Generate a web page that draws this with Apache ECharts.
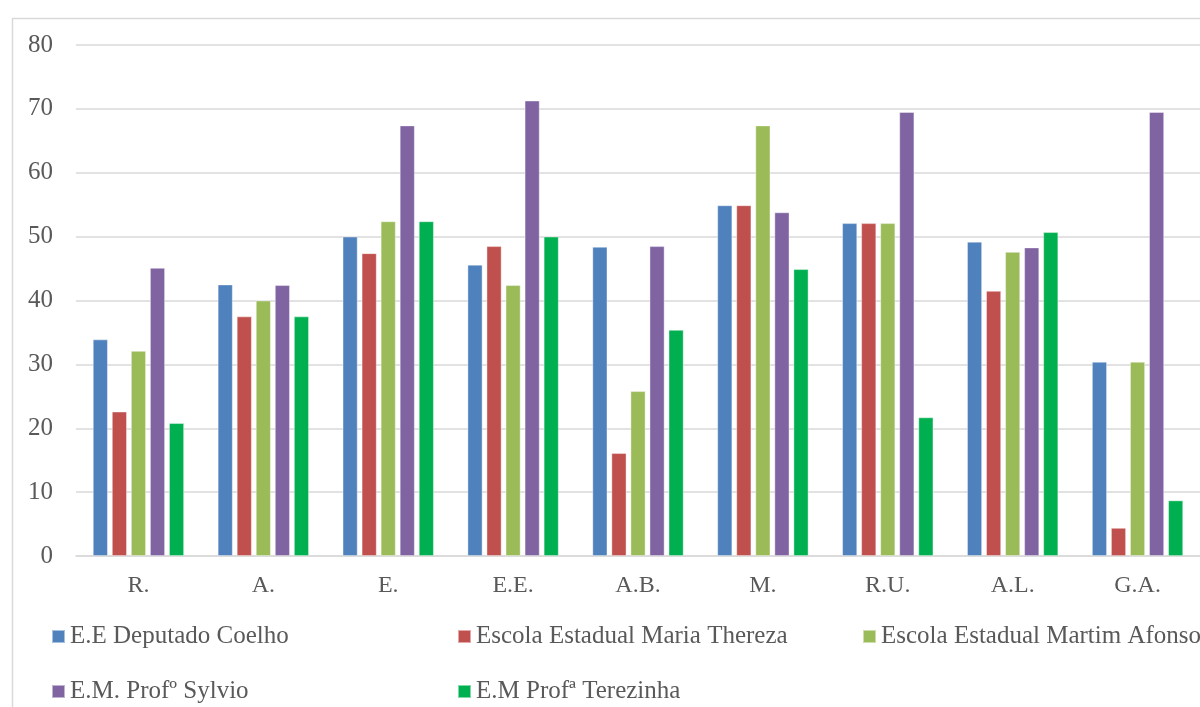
<!DOCTYPE html>
<html>
<head>
<meta charset="utf-8">
<script src="https://cdn.jsdelivr.net/npm/echarts@6/dist/echarts.min.js"></script>
<style>
  html, body { margin: 0; padding: 0; background: #fff; }
  #chart { width: 1200px; height: 707px; }
</style>
</head>
<body>
<div id="chart"></div>
<script>
// Categories along the x axis
const categories = ['R.', 'A.', 'E.', 'E.E.', 'A.B.', 'M.', 'R.U.', 'A.L.', 'G.A.'];

// One series per school
const seriesNames = [
  'E.E Deputado Coelho',
  'Escola Estadual Maria Thereza',
  'Escola Estadual Martim Afonso',
  'E.M. Profº Sylvio',
  'E.M Profª Terezinha'
];
const deputadoCoelho = [33.9, 42.5, 50.0, 45.6, 48.4, 54.9, 52.1, 49.2, 30.4];
const mariaThereza   = [22.6, 37.5, 47.4, 48.5, 16.1, 54.9, 52.1, 41.5, 4.4];
const martimAfonso   = [32.1, 40.0, 52.4, 42.4, 25.8, 67.4, 52.1, 47.6, 30.4];
const profSylvio     = [45.1, 42.4, 67.4, 71.3, 48.5, 53.8, 69.5, 48.3, 69.5];
const profTerezinha  = [20.8, 37.5, 52.4, 50.0, 35.4, 44.9, 21.7, 50.7, 8.7];

const yTicks = [0, 10, 20, 30, 40, 50, 60, 70, 80];

const values = [deputadoCoelho, mariaThereza, martimAfonso, profSylvio, profTerezinha];
const colors = ['#4F81BD', '#C0504D', '#9BBB59', '#8064A2', '#00B050'];

const FONT = 'Liberation Serif';
const TEXT = '#595959';
const GRID = '#D9D9D9';

// Legend entries laid out in fixed columns, two rows
const legendPos = [
  { left: 51, top: 624 },
  { left: 457, top: 624 },
  { left: 862, top: 624 },
  { left: 51, top: 679 },
  { left: 457, top: 679 }
];

const chart = echarts.init(document.getElementById('chart'), null, { renderer: 'canvas' });

chart.setOption({
  backgroundColor: '#fff',
  animation: false,
  graphic: [{
    type: 'rect',
    left: 10, top: 16,
    shape: { width: 1250, height: 760 },
    style: { fill: 'none', stroke: GRID, lineWidth: 1.5 },
    silent: true
  }],
  legend: seriesNames.map((name, i) => ({
    data: [name],
    left: legendPos[i].left,
    top: legendPos[i].top,
    itemWidth: 13,
    itemHeight: 13,
    icon: 'rect',
    itemGap: 0,
    padding: 0,
    textStyle: { fontFamily: FONT, fontSize: 25, color: TEXT }
  })),
  grid: { left: 76, right: -2, top: 45, bottom: 151, containLabel: false },
  xAxis: {
    type: 'category',
    data: categories,
    axisLine: { lineStyle: { color: GRID, width: 1.5 } },
    axisTick: { show: false },
    axisLabel: { fontFamily: FONT, fontSize: 24, color: TEXT, margin: 18 }
  },
  yAxis: {
    type: 'value',
    min: yTicks[0],
    max: yTicks[yTicks.length - 1],
    interval: 10,
    axisLine: { show: false },
    axisTick: { show: false },
    splitLine: { lineStyle: { color: GRID, width: 1.5 } },
    axisLabel: { fontFamily: FONT, fontSize: 25, color: TEXT, margin: 23 }
  },
  series: seriesNames.map((name, i) => ({
    name: name,
    type: 'bar',
    data: values[i],
    barWidth: 15,
    barGap: '27%',
    itemStyle: { color: colors[i], borderColor: 'rgba(255,255,255,0.5)', borderWidth: 0.8 }
  }))
});
</script>
</body>
</html>
